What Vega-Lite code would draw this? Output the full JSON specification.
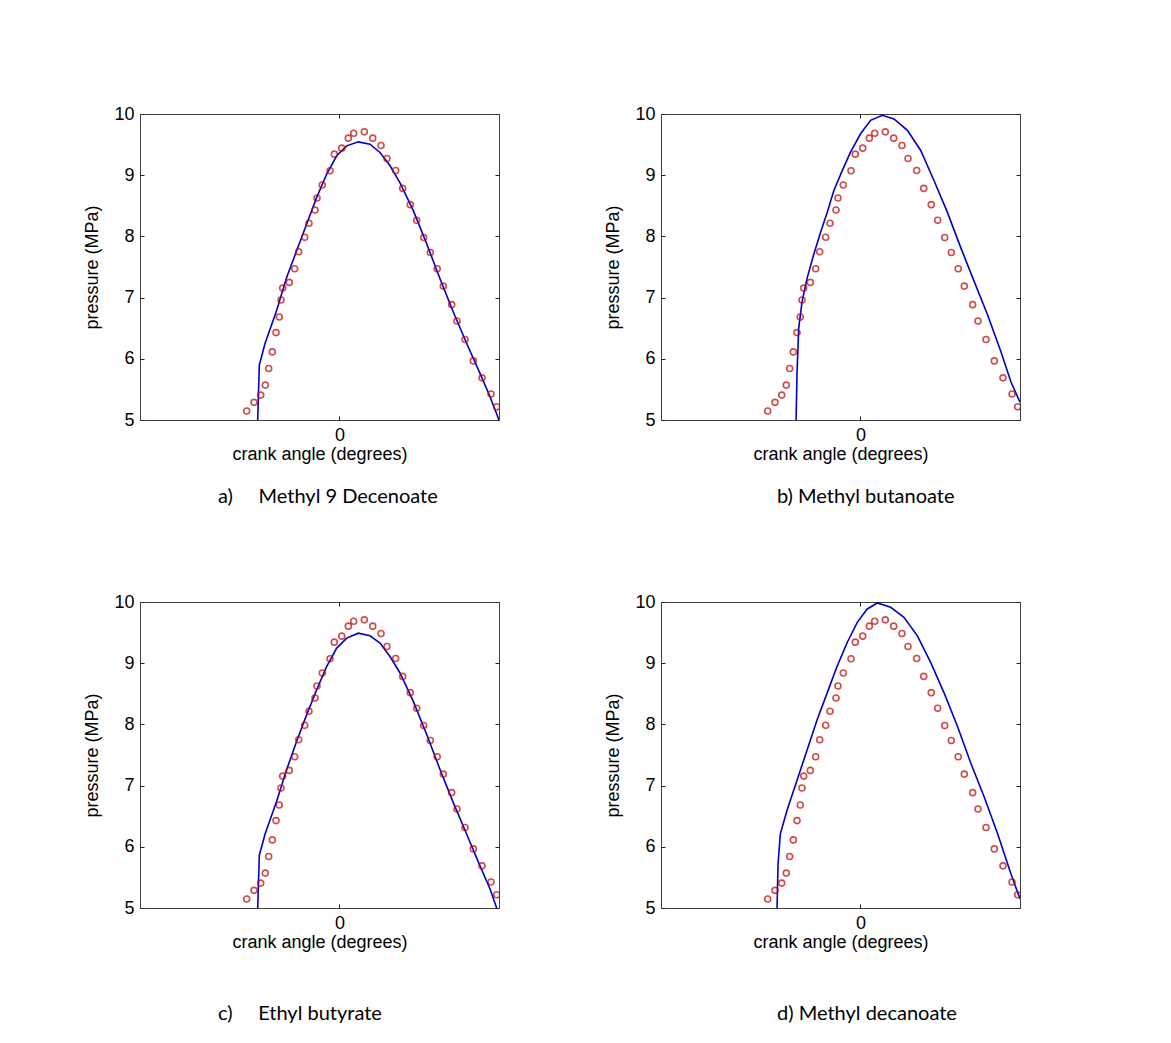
{
  "$schema": "https://vega.github.io/schema/vega-lite/v6.json",
  "background": "white",
  "padding": {"left": 83, "top": 104, "right": 5, "bottom": 5},
  "bounds": "flush",
  "spacing": 488,
  "datasets": {
    "exp": [
      {"ca": -23.25, "p": 5.147}, {"ca": -21.42, "p": 5.288}, {"ca": -19.74, "p": 5.407}, {"ca": -18.59, "p": 5.570},
      {"ca": -17.74, "p": 5.842}, {"ca": -16.83, "p": 6.113}, {"ca": -15.90, "p": 6.428}, {"ca": -15.08, "p": 6.683},
      {"ca": -14.65, "p": 6.960}, {"ca": -14.23, "p": 7.155}, {"ca": -12.57, "p": 7.248}, {"ca": -11.22, "p": 7.471},
      {"ca": -10.21, "p": 7.748}, {"ca": -8.71, "p": 7.986}, {"ca": -7.63, "p": 8.214}, {"ca": -6.13, "p": 8.432},
      {"ca": -5.63, "p": 8.628}, {"ca": -4.30, "p": 8.840}, {"ca": -2.37, "p": 9.072}, {"ca": -1.29, "p": 9.344},
      {"ca": 0.57, "p": 9.442}, {"ca": 2.22, "p": 9.605}, {"ca": 3.57, "p": 9.686}, {"ca": 6.23, "p": 9.708},
      {"ca": 8.34, "p": 9.605}, {"ca": 10.42, "p": 9.485}, {"ca": 11.92, "p": 9.273}, {"ca": 14.10, "p": 9.077},
      {"ca": 15.86, "p": 8.784}, {"ca": 17.76, "p": 8.519}, {"ca": 19.37, "p": 8.263}, {"ca": 21.12, "p": 7.981},
      {"ca": 22.78, "p": 7.737}, {"ca": 24.51, "p": 7.471}, {"ca": 26.04, "p": 7.188}, {"ca": 28.14, "p": 6.885},
      {"ca": 29.47, "p": 6.618}, {"ca": 31.48, "p": 6.315}, {"ca": 33.56, "p": 5.966}, {"ca": 35.74, "p": 5.689},
      {"ca": 38.00, "p": 5.424}, {"ca": 39.42, "p": 5.217}
    ],
    "sim": [
      {"panel": "a", "ca": -20.49, "p": 5.0}, {"panel": "a", "ca": -20.09, "p": 5.896}, {"panel": "a", "ca": -18.66, "p": 6.249},
      {"panel": "a", "ca": -15.73, "p": 6.792}, {"panel": "a", "ca": -13.22, "p": 7.334}, {"panel": "a", "ca": -10.72, "p": 7.769},
      {"panel": "a", "ca": -8.21, "p": 8.204}, {"panel": "a", "ca": -5.70, "p": 8.638}, {"panel": "a", "ca": -3.19, "p": 9.019},
      {"panel": "a", "ca": -0.69, "p": 9.317}, {"panel": "a", "ca": 1.82, "p": 9.480}, {"panel": "a", "ca": 4.73, "p": 9.545},
      {"panel": "a", "ca": 7.66, "p": 9.507}, {"panel": "a", "ca": 10.17, "p": 9.371}, {"panel": "a", "ca": 12.68, "p": 9.154},
      {"panel": "a", "ca": 15.18, "p": 8.874}, {"panel": "a", "ca": 18.52, "p": 8.421}, {"panel": "a", "ca": 21.88, "p": 7.878},
      {"panel": "a", "ca": 25.21, "p": 7.308}, {"panel": "a", "ca": 28.54, "p": 6.764}, {"panel": "a", "ca": 31.90, "p": 6.249},
      {"panel": "a", "ca": 35.24, "p": 5.761}, {"panel": "a", "ca": 37.75, "p": 5.380}, {"panel": "a", "ca": 40.0, "p": 5.0},

      {"panel": "b", "ca": -16.14, "p": 5.0}, {"panel": "b", "ca": -15.89, "p": 5.785}, {"panel": "b", "ca": -15.48, "p": 6.497},
      {"panel": "b", "ca": -14.63, "p": 6.936}, {"panel": "b", "ca": -13.37, "p": 7.319}, {"panel": "b", "ca": -11.71, "p": 7.703},
      {"panel": "b", "ca": -10.03, "p": 8.060}, {"panel": "b", "ca": -8.34, "p": 8.389}, {"panel": "b", "ca": -6.68, "p": 8.746},
      {"panel": "b", "ca": -4.57, "p": 9.075}, {"panel": "b", "ca": -2.49, "p": 9.376}, {"panel": "b", "ca": 0.03, "p": 9.677},
      {"panel": "b", "ca": 2.54, "p": 9.897}, {"panel": "b", "ca": 5.48, "p": 9.979}, {"panel": "b", "ca": 8.40, "p": 9.919},
      {"panel": "b", "ca": 11.77, "p": 9.733}, {"panel": "b", "ca": 15.11, "p": 9.404}, {"panel": "b", "ca": 18.46, "p": 8.910},
      {"panel": "b", "ca": 21.83, "p": 8.389}, {"panel": "b", "ca": 25.17, "p": 7.813}, {"panel": "b", "ca": 28.51, "p": 7.265},
      {"panel": "b", "ca": 31.88, "p": 6.716}, {"panel": "b", "ca": 35.22, "p": 6.114}, {"panel": "b", "ca": 37.74, "p": 5.620},
      {"panel": "b", "ca": 40.0, "p": 5.291},

      {"panel": "c", "ca": -20.49, "p": 5.0}, {"panel": "c", "ca": -20.09, "p": 5.863}, {"panel": "c", "ca": -18.66, "p": 6.205},
      {"panel": "c", "ca": -15.73, "p": 6.748}, {"panel": "c", "ca": -13.22, "p": 7.264}, {"panel": "c", "ca": -10.72, "p": 7.725},
      {"panel": "c", "ca": -8.21, "p": 8.160}, {"panel": "c", "ca": -5.70, "p": 8.567}, {"panel": "c", "ca": -3.19, "p": 8.947},
      {"panel": "c", "ca": -0.69, "p": 9.247}, {"panel": "c", "ca": 1.82, "p": 9.410}, {"panel": "c", "ca": 4.73, "p": 9.491},
      {"panel": "c", "ca": 7.66, "p": 9.447}, {"panel": "c", "ca": 10.17, "p": 9.328}, {"panel": "c", "ca": 12.68, "p": 9.110},
      {"panel": "c", "ca": 15.18, "p": 8.840}, {"panel": "c", "ca": 18.52, "p": 8.377}, {"panel": "c", "ca": 21.88, "p": 7.834},
      {"panel": "c", "ca": 25.21, "p": 7.264}, {"panel": "c", "ca": 28.54, "p": 6.722}, {"panel": "c", "ca": 31.90, "p": 6.205},
      {"panel": "c", "ca": 35.24, "p": 5.689}, {"panel": "c", "ca": 37.75, "p": 5.310}, {"panel": "c", "ca": 39.42, "p": 5.0},

      {"panel": "d", "ca": -20.91, "p": 5.0}, {"panel": "d", "ca": -20.66, "p": 5.719}, {"panel": "d", "ca": -20.08, "p": 6.212},
      {"panel": "d", "ca": -18.40, "p": 6.596}, {"panel": "d", "ca": -15.89, "p": 7.089}, {"panel": "d", "ca": -13.37, "p": 7.583},
      {"panel": "d", "ca": -10.86, "p": 8.076}, {"panel": "d", "ca": -8.34, "p": 8.515}, {"panel": "d", "ca": -5.83, "p": 8.953},
      {"panel": "d", "ca": -3.32, "p": 9.338}, {"panel": "d", "ca": -0.80, "p": 9.667}, {"panel": "d", "ca": 1.71, "p": 9.886},
      {"panel": "d", "ca": 4.23, "p": 9.984}, {"panel": "d", "ca": 7.57, "p": 9.914}, {"panel": "d", "ca": 9.26, "p": 9.831},
      {"panel": "d", "ca": 10.91, "p": 9.749}, {"panel": "d", "ca": 14.28, "p": 9.446}, {"panel": "d", "ca": 17.63, "p": 9.009},
      {"panel": "d", "ca": 20.97, "p": 8.515}, {"panel": "d", "ca": 24.34, "p": 7.966}, {"panel": "d", "ca": 27.68, "p": 7.364},
      {"panel": "d", "ca": 31.03, "p": 6.814}, {"panel": "d", "ca": 34.39, "p": 6.212}, {"panel": "d", "ca": 37.74, "p": 5.554},
      {"panel": "d", "ca": 40.0, "p": 5.15}
    ]
  },
  "vconcat": [
    {
      "bounds": "flush",
      "spacing": 162,
      "hconcat": [
        {
          "width": 359, "height": 306,
          "title": {"text": "a)\u00a0\u00a0\u00a0\u00a0\u00a0Methyl 9 Decenoate", "dx": 78, "offset": 24},
          "resolve": {"axis": {"x": "independent", "y": "independent"}},
          "layer": [
            {
              "data": {"name": "sim"},
              "transform": [{"filter": "datum.panel == 'a'"}],
              "mark": {"type": "line", "color": "#0000c8", "strokeWidth": 1.6, "clip": true},
              "encoding": {
                "x": {"field": "ca", "type": "quantitative", "scale": {"domain": [-50, 40], "nice": false, "zero": false}, "axis": {"values": [0], "title": "crank angle (degrees)"}},
                "y": {"field": "p", "type": "quantitative", "scale": {"domain": [5, 10], "nice": false, "zero": false}, "axis": {"values": [5, 6, 7, 8, 9, 10], "title": "pressure (MPa)"}}
              }
            },
            {
              "data": {"name": "exp"},
              "mark": {"type": "point", "shape": "circle", "color": "#c00000", "size": 36, "strokeWidth": 1.6, "clip": true},
              "encoding": {
                "x": {"field": "ca", "type": "quantitative", "axis": {"orient": "top", "values": [0], "labels": false, "title": null}},
                "y": {"field": "p", "type": "quantitative", "axis": {"orient": "right", "values": [5, 6, 7, 8, 9, 10], "labels": false, "title": null}}
              }
            }
          ]
        },
        {
          "width": 359, "height": 306,
          "title": {"text": "b) Methyl butanoate", "dx": 116, "offset": 24},
          "resolve": {"axis": {"x": "independent", "y": "independent"}},
          "layer": [
            {
              "data": {"name": "sim"},
              "transform": [{"filter": "datum.panel == 'b'"}],
              "mark": {"type": "line", "color": "#0000c8", "strokeWidth": 1.6, "clip": true},
              "encoding": {
                "x": {"field": "ca", "type": "quantitative", "scale": {"domain": [-50, 40], "nice": false, "zero": false}, "axis": {"values": [0], "title": "crank angle (degrees)"}},
                "y": {"field": "p", "type": "quantitative", "scale": {"domain": [5, 10], "nice": false, "zero": false}, "axis": {"values": [5, 6, 7, 8, 9, 10], "title": "pressure (MPa)"}}
              }
            },
            {
              "data": {"name": "exp"},
              "mark": {"type": "point", "shape": "circle", "color": "#c00000", "size": 36, "strokeWidth": 1.6, "clip": true},
              "encoding": {
                "x": {"field": "ca", "type": "quantitative", "axis": {"orient": "top", "values": [0], "labels": false, "title": null}},
                "y": {"field": "p", "type": "quantitative", "axis": {"orient": "right", "values": [5, 6, 7, 8, 9, 10], "labels": false, "title": null}}
              }
            }
          ]
        }
      ]
    },
    {
      "bounds": "flush",
      "spacing": 162,
      "hconcat": [
        {
          "width": 359, "height": 306,
          "title": {"text": "c)\u00a0\u00a0\u00a0\u00a0\u00a0Ethyl butyrate", "dx": 78, "offset": 53},
          "resolve": {"axis": {"x": "independent", "y": "independent"}},
          "layer": [
            {
              "data": {"name": "sim"},
              "transform": [{"filter": "datum.panel == 'c'"}],
              "mark": {"type": "line", "color": "#0000c8", "strokeWidth": 1.6, "clip": true},
              "encoding": {
                "x": {"field": "ca", "type": "quantitative", "scale": {"domain": [-50, 40], "nice": false, "zero": false}, "axis": {"values": [0], "title": "crank angle (degrees)"}},
                "y": {"field": "p", "type": "quantitative", "scale": {"domain": [5, 10], "nice": false, "zero": false}, "axis": {"values": [5, 6, 7, 8, 9, 10], "title": "pressure (MPa)"}}
              }
            },
            {
              "data": {"name": "exp"},
              "mark": {"type": "point", "shape": "circle", "color": "#c00000", "size": 36, "strokeWidth": 1.6, "clip": true},
              "encoding": {
                "x": {"field": "ca", "type": "quantitative", "axis": {"orient": "top", "values": [0], "labels": false, "title": null}},
                "y": {"field": "p", "type": "quantitative", "axis": {"orient": "right", "values": [5, 6, 7, 8, 9, 10], "labels": false, "title": null}}
              }
            }
          ]
        },
        {
          "width": 359, "height": 306,
          "title": {"text": "d) Methyl decanoate", "dx": 116, "offset": 53},
          "resolve": {"axis": {"x": "independent", "y": "independent"}},
          "layer": [
            {
              "data": {"name": "sim"},
              "transform": [{"filter": "datum.panel == 'd'"}],
              "mark": {"type": "line", "color": "#0000c8", "strokeWidth": 1.6, "clip": true},
              "encoding": {
                "x": {"field": "ca", "type": "quantitative", "scale": {"domain": [-50, 40], "nice": false, "zero": false}, "axis": {"values": [0], "title": "crank angle (degrees)"}},
                "y": {"field": "p", "type": "quantitative", "scale": {"domain": [5, 10], "nice": false, "zero": false}, "axis": {"values": [5, 6, 7, 8, 9, 10], "title": "pressure (MPa)"}}
              }
            },
            {
              "data": {"name": "exp"},
              "mark": {"type": "point", "shape": "circle", "color": "#c00000", "size": 36, "strokeWidth": 1.6, "clip": true},
              "encoding": {
                "x": {"field": "ca", "type": "quantitative", "axis": {"orient": "top", "values": [0], "labels": false, "title": null}},
                "y": {"field": "p", "type": "quantitative", "axis": {"orient": "right", "values": [5, 6, 7, 8, 9, 10], "labels": false, "title": null}}
              }
            }
          ]
        }
      ]
    }
  ],
  "config": {
    "view": {"stroke": "#404040", "strokeWidth": 1},
    "axis": {
      "grid": false,
      "domain": false,
      "tickColor": "#222222",
      "tickSize": -4,
      "tickWidth": 1,
      "labelFont": "Liberation Sans",
      "labelFontSize": 18,
      "labelColor": "#000000",
      "titleFont": "Liberation Sans",
      "titleFontSize": 18,
      "titleFontWeight": "normal",
      "titleColor": "#000000"
    },
    "axisX": {"titlePadding": 1, "labelPadding": 10},
    "axisY": {"titlePadding": 12, "labelPadding": 10},
    "title": {
      "orient": "bottom",
      "anchor": "start",
      "frame": "group",
      "font": "Lato, 'Open Sans', sans-serif",
      "fontSize": 20,
      "fontWeight": "normal",
      "color": "#000000"
    }
  }
}
